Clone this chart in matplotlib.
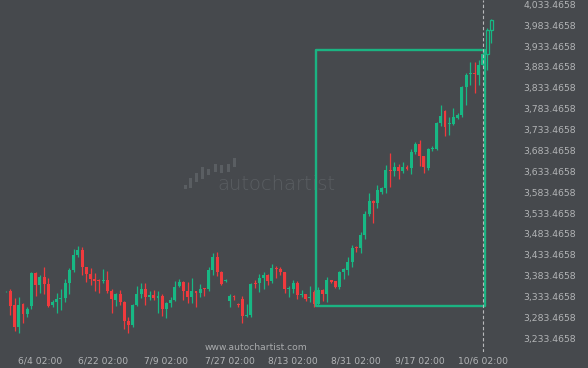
import matplotlib
matplotlib.use("Agg")
import matplotlib.pyplot as plt
from matplotlib.patches import Rectangle

# candle data (open, high, low, close), one per bar
opens = [3346, 3347, 3313, 3261, 3316, 3291, 3311, 3390, 3361, 3380,
         3364, 3313, 3320, 3328, 3330, 3366, 3397, 3433, 3445, 3404,
         3388, 3376, 3373, 3371, 3373, 3347, 3325, 3340, 3320, 3275,
         3265, 3313, 3340, 3352, 3332, 3337, 3330, 3335, 3304, 3318,
         3325, 3359, 3368, 3347, 3332, 3347, 3342, 3354, 3352, 3397,
         3428, 3392, 3371, 3323, 3335, 3316, 3328, 3287, 3289, 3366,
         3366, 3378, 3385, 3371, 3402, 3399, 3392, 3352, 3352, 3366,
         3337, 3340, 3330, 3344, 3316, 3349, 3340, 3373, 3371, 3356,
         3392, 3397, 3416, 3452, 3450, 3481, 3531, 3562, 3558, 3584,
         3593, 3637, 3634, 3644, 3634, 3644, 3641, 3680, 3698, 3671,
         3641, 3686, 3686, 3750, 3779, 3746, 3747, 3760, 3768, 3836,
         3866, 3868, 3864, 3888, 3914, 3972]
highs = [3348, 3351, 3330, 3332, 3319, 3309, 3392, 3392, 3385, 3404,
         3378, 3325, 3342, 3351, 3376, 3402, 3447, 3454, 3452, 3404,
         3402, 3390, 3376, 3399, 3395, 3352, 3342, 3349, 3323, 3285,
         3316, 3359, 3366, 3366, 3347, 3349, 3347, 3340, 3320, 3332,
         3371, 3376, 3371, 3368, 3378, 3347, 3364, 3354, 3404, 3438,
         3440, 3395, 3376, 3340, 3337, 3318, 3335, 3316, 3366, 3373,
         3388, 3392, 3388, 3411, 3407, 3404, 3392, 3359, 3373, 3371,
         3349, 3340, 3359, 3349, 3356, 3352, 3380, 3373, 3371, 3395,
         3402, 3428, 3457, 3455, 3488, 3538, 3581, 3565, 3601, 3596,
         3649, 3677, 3656, 3651, 3656, 3649, 3686, 3704, 3708, 3671,
         3689, 3694, 3752, 3792, 3780, 3764, 3784, 3773, 3837, 3868,
         3896, 3896, 3900, 3924, 3976, 3998]
lows = [3345, 3289, 3250, 3246, 3271, 3285, 3304, 3335, 3342, 3340,
        3308, 3308, 3294, 3301, 3320, 3340, 3392, 3428, 3385, 3368,
        3361, 3347, 3342, 3366, 3342, 3294, 3311, 3313, 3256, 3246,
        3261, 3311, 3330, 3313, 3325, 3325, 3294, 3287, 3282, 3308,
        3323, 3356, 3325, 3318, 3318, 3308, 3332, 3335, 3347, 3385,
        3383, 3361, 3368, 3308, 3325, 3308, 3270, 3285, 3285, 3354,
        3344, 3352, 3361, 3366, 3378, 3385, 3342, 3332, 3342, 3328,
        3332, 3323, 3320, 3308, 3311, 3323, 3320, 3366, 3354, 3352,
        3376, 3385, 3404, 3440, 3438, 3471, 3526, 3510, 3546, 3579,
        3581, 3596, 3622, 3615, 3629, 3637, 3627, 3675, 3647, 3630,
        3636, 3681, 3684, 3742, 3718, 3720, 3744, 3759, 3764, 3792,
        3840, 3822, 3840, 3886, 3876, 3940]
closes = [3347, 3311, 3261, 3313, 3292, 3303, 3390, 3361, 3380, 3364,
          3311, 3320, 3328, 3330, 3366, 3397, 3433, 3445, 3404, 3388,
          3376, 3371, 3371, 3373, 3347, 3328, 3340, 3320, 3275, 3265,
          3313, 3340, 3352, 3332, 3337, 3330, 3335, 3304, 3318, 3325,
          3356, 3368, 3347, 3332, 3347, 3342, 3352, 3352, 3397, 3428,
          3392, 3364, 3373, 3335, 3332, 3313, 3287, 3289, 3364, 3364,
          3378, 3385, 3371, 3402, 3399, 3392, 3352, 3354, 3366, 3337,
          3340, 3328, 3332, 3316, 3349, 3340, 3373, 3368, 3356, 3392,
          3399, 3416, 3450, 3450, 3481, 3531, 3562, 3558, 3589, 3593,
          3637, 3634, 3644, 3634, 3643, 3640, 3680, 3698, 3671, 3643,
          3686, 3690, 3750, 3766, 3740, 3748, 3764, 3768, 3835, 3864,
          3868, 3866, 3888, 3914, 3972, 3996]

date_labels = ["6/4 02:00", "6/22 02:00", "7/9 02:00", "7/27 02:00",
               "8/13 02:00", "8/31 02:00", "9/17 02:00", "10/6 02:00"]
date_idx = [8, 23, 38, 53, 68, 83, 98, 113]

price_levels = [3233.4658 + 50 * k for k in range(17)]

# detected pattern box and breakout bar
box_start, box_end = 73.4, 113.4
box_low, box_high = 3311, 3924
breakout_idx = 113
hollow_from = 114   # last bars drawn as outlines

bg = "#46494d"
up = "#17b884"
down = "#f03a3d"
txt = "#b2b4b6"

fig = plt.figure(figsize=(5.88, 3.68), dpi=100, facecolor=bg)
ax = fig.add_axes([0, 1 - 352 / 368, 505 / 588, 352 / 368])
ax.set_facecolor(bg)

body_w = 0.7
min_body = 1.6
for i in range(len(opens)):
    o, h, l, c = opens[i], highs[i], lows[i], closes[i]
    col = up if c >= o else down
    lo_b, hi_b = min(o, c), max(o, c)
    if hi_b - lo_b < min_body:
        mid = (hi_b + lo_b) / 2
        lo_b, hi_b = mid - min_body / 2, mid + min_body / 2
    if i >= hollow_from:
        ax.vlines(i, hi_b, h, color=col, lw=0.9, zorder=2)
        ax.vlines(i, l, lo_b, color=col, lw=0.9, zorder=2)
        ax.bar(i, hi_b - lo_b, bottom=lo_b, width=body_w, facecolor=bg,
               edgecolor=col, lw=0.9, zorder=3)
    else:
        ax.vlines(i, l, h, color=col, lw=0.9, zorder=2)
        ax.bar(i, hi_b - lo_b, bottom=lo_b, width=body_w, color=col,
               lw=0, zorder=3)

ax.add_patch(Rectangle((box_start, box_low), box_end - box_start,
                       box_high - box_low, fill=False, ec="#1bb382",
                       lw=1.7, joinstyle="round", zorder=4))
ax.axvline(breakout_idx, color="#b8b9bb", lw=0.8, ls=(0, (3, 2)), zorder=5)

ax.set_xlim(-1.445, 118.22)
ax.set_ylim(3200.7, 4043.8)

for s in ax.spines.values():
    s.set_visible(False)

ax.set_xticks(date_idx)
ax.set_xticklabels(date_labels)
ax.tick_params(axis="x", length=0, pad=3.5, labelsize=6.6, labelcolor=txt)

ax.yaxis.tick_right()
ax.set_yticks(price_levels)
ax.set_yticklabels(["{:,.4f}".format(v) for v in price_levels])
ax.tick_params(axis="y", length=0, pad=51, labelsize=6.7, labelcolor=txt)
for lbl in ax.get_yticklabels():
    lbl.set_horizontalalignment("right")

# watermark
logo = [(185, 185, 189), (190.5, 178, 188), (196.5, 173, 182), (202.5, 167, 179),
        (208.7, 169, 175), (215, 164, 172), (221.5, 165, 173), (228, 164, 172),
        (234, 158, 167)]
for x, top, bot in logo:
    fig.add_artist(Rectangle(((x - 1.5) / 588, 1 - bot / 368), 3 / 588,
                             (bot - top) / 368, transform=fig.transFigure,
                             color="#5a5e62", lw=0))
fig.text(276.7 / 588, 1 - 190 / 368, "autochartist", ha="center",
         va="baseline", fontsize=14, color="#5a5e62", fontweight="light")
fig.text(256 / 588, 1 - 347 / 368, "www.autochartist.com", ha="center",
         va="center", fontsize=6.6, color="#a9abad")

fig.savefig("out.png", dpi=100, facecolor=bg)
